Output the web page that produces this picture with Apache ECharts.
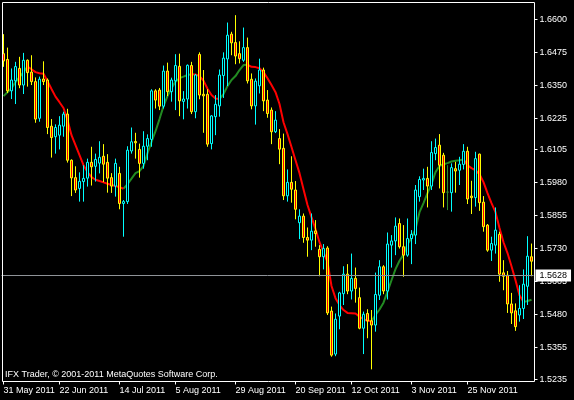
<!DOCTYPE html>
<html><head><meta charset="utf-8">
<script src="https://cdn.jsdelivr.net/npm/echarts@6/dist/echarts.min.js"></script>
<style>html,body{margin:0;padding:0;background:#000;}#c{width:574px;height:400px;}</style>
</head><body><div id="c"></div>
<script>
const open  = [1.6469,1.6447,1.6328,1.6366,1.6413,1.6350,1.6444,1.6399,1.6363,1.6224,1.6373,1.6369,1.6194,1.6154,1.6160,1.6194,1.6240,1.6065,1.5999,1.5958,1.5984,1.5997,1.6057,1.6042,1.6054,1.6080,1.6057,1.5999,1.5967,1.6015,1.5901,1.5908,1.6100,1.6136,1.6106,1.6053,1.6118,1.6144,1.6328,1.6331,1.6270,1.6403,1.6325,1.6366,1.6421,1.6288,1.6297,1.6424,1.6249,1.6466,1.6315,1.6315,1.6128,1.6230,1.6271,1.6386,1.6449,1.6543,1.6511,1.6469,1.6444,1.6492,1.6372,1.6271,1.6347,1.6407,1.6293,1.6255,1.6173,1.6147,1.6110,1.5930,1.5981,1.5952,1.5828,1.5853,1.5772,1.5762,1.5797,1.5727,1.5699,1.5732,1.5493,1.5330,1.5474,1.5559,1.5633,1.5569,1.5617,1.5544,1.5428,1.5484,1.5456,1.5440,1.5553,1.5661,1.5569,1.5743,1.5759,1.5825,1.5737,1.5705,1.5768,1.5781,1.5927,1.5990,1.5996,1.5967,1.6090,1.6122,1.6084,1.5944,1.5942,1.6033,1.6027,1.6049,1.6099,1.5929,1.5923,1.6088,1.5906,1.5819,1.5724,1.5743,1.5784,1.5638,1.5629,1.5520,1.5494,1.5478,1.5503,1.5587,1.5699];
const close = [1.6441,1.6328,1.6369,1.6420,1.6350,1.6444,1.6397,1.6363,1.6221,1.6372,1.6363,1.6189,1.6151,1.6189,1.6198,1.6240,1.6065,1.5998,1.5952,1.5985,1.5996,1.6057,1.6040,1.6068,1.6076,1.6050,1.5997,1.5967,1.6053,1.5901,1.5908,1.6103,1.6135,1.6131,1.6053,1.6118,1.6147,1.6328,1.6293,1.6270,1.6403,1.6325,1.6369,1.6424,1.6290,1.6297,1.6425,1.6249,1.6388,1.6312,1.6309,1.6126,1.6233,1.6277,1.6388,1.6452,1.6539,1.6510,1.6460,1.6450,1.6492,1.6366,1.6271,1.6365,1.6407,1.6290,1.6242,1.6173,1.6217,1.6107,1.5930,1.5981,1.5955,1.5879,1.5853,1.5772,1.5762,1.5796,1.5787,1.5699,1.5730,1.5486,1.5326,1.5462,1.5562,1.5633,1.5569,1.5617,1.5579,1.5428,1.5481,1.5456,1.5440,1.5556,1.5661,1.5569,1.5747,1.5759,1.5815,1.5737,1.5705,1.5768,1.5784,1.5952,1.5992,1.5996,1.5967,1.6094,1.6113,1.6046,1.5942,1.5944,1.6037,1.6024,1.6050,1.6099,1.5918,1.5923,1.6071,1.5904,1.5813,1.5724,1.5749,1.5800,1.5633,1.5625,1.5520,1.5486,1.5434,1.5503,1.5595,1.5701,1.5682];
const low   = [1.6419,1.6320,1.6297,1.6278,1.6338,1.6316,1.6344,1.6350,1.6207,1.6211,1.6350,1.6164,1.6075,1.6090,1.6106,1.6154,1.6056,1.5929,1.5941,1.5908,1.5908,1.5965,1.5969,1.5984,1.6015,1.5982,1.5942,1.5941,1.5927,1.5879,1.5775,1.5899,1.6090,1.6071,1.5999,1.6033,1.6065,1.6116,1.6261,1.6255,1.6261,1.6308,1.6287,1.6255,1.6232,1.6220,1.6261,1.6240,1.6224,1.6296,1.6169,1.6116,1.6106,1.6160,1.6230,1.6301,1.6346,1.6463,1.6429,1.6432,1.6438,1.6356,1.6258,1.6200,1.6318,1.6251,1.6226,1.6126,1.6168,1.6050,1.5914,1.5908,1.5904,1.5841,1.5766,1.5752,1.5699,1.5724,1.5737,1.5625,1.5651,1.5478,1.5320,1.5322,1.5424,1.5516,1.5557,1.5537,1.5525,1.5424,1.5330,1.5390,1.5272,1.5415,1.5535,1.5557,1.5537,1.5658,1.5705,1.5730,1.5623,1.5699,1.5671,1.5747,1.5908,1.5952,1.5886,1.5952,1.6065,1.5958,1.5886,1.5876,1.5870,1.5942,1.5971,1.6030,1.5899,1.5861,1.5889,1.5873,1.5794,1.5718,1.5683,1.5711,1.5604,1.5572,1.5486,1.5444,1.5418,1.5453,1.5463,1.5516,1.5625];
const high  = [1.6543,1.6492,1.6413,1.6438,1.6457,1.6472,1.6447,1.6463,1.6379,1.6382,1.6440,1.6375,1.6221,1.6201,1.6232,1.6249,1.6260,1.6068,1.6042,1.6019,1.6046,1.6071,1.6116,1.6090,1.6137,1.6126,1.6088,1.6016,1.6071,1.6040,1.5914,1.6118,1.6189,1.6169,1.6128,1.6175,1.6163,1.6334,1.6334,1.6339,1.6424,1.6435,1.6378,1.6467,1.6469,1.6327,1.6428,1.6438,1.6392,1.6474,1.6407,1.6334,1.6236,1.6312,1.6409,1.6474,1.6587,1.6552,1.6615,1.6516,1.6568,1.6530,1.6394,1.6375,1.6450,1.6416,1.6331,1.6265,1.6251,1.6183,1.6166,1.6030,1.6080,1.5986,1.5879,1.5863,1.5810,1.5863,1.5838,1.5743,1.5747,1.5739,1.5510,1.5484,1.5566,1.5663,1.5671,1.5711,1.5658,1.5582,1.5491,1.5500,1.5497,1.5639,1.5686,1.5667,1.5791,1.5781,1.5848,1.5844,1.5819,1.5844,1.5800,1.5971,1.6004,1.6033,1.6040,1.6137,1.6147,1.6164,1.6093,1.6046,1.6053,1.6059,1.6078,1.6126,1.6116,1.5987,1.6097,1.6090,1.5929,1.5823,1.5775,1.5886,1.5794,1.5686,1.5645,1.5562,1.5522,1.5591,1.5651,1.5777,1.5749];
const ma    = [1.6308,1.6323,1.6338,1.6361,1.6380,1.6399,1.6420,1.6410,1.6399,1.6395,1.6393,1.6365,1.6335,1.6306,1.6285,1.6263,1.6217,1.6160,1.6122,1.6084,1.6046,1.6020,1.6001,1.5991,1.5986,1.5981,1.5976,1.5971,1.5967,1.5963,1.5957,1.5974,1.5995,1.6016,1.6024,1.6043,1.6092,1.6134,1.6175,1.6221,1.6270,1.6308,1.6338,1.6363,1.6376,1.6382,1.6388,1.6391,1.6390,1.6384,1.6367,1.6336,1.6312,1.6299,1.6297,1.6316,1.6346,1.6369,1.6384,1.6407,1.6426,1.6427,1.6419,1.6418,1.6414,1.6399,1.6376,1.6350,1.6323,1.6278,1.6209,1.6164,1.6115,1.6065,1.6016,1.5955,1.5895,1.5849,1.5804,1.5754,1.5717,1.5679,1.5588,1.5542,1.5516,1.5497,1.5486,1.5485,1.5484,1.5472,1.5462,1.5456,1.5455,1.5478,1.5499,1.5525,1.5567,1.5610,1.5652,1.5684,1.5707,1.5747,1.5770,1.5804,1.5868,1.5902,1.5940,1.5974,1.6020,1.6043,1.6050,1.6054,1.6060,1.6063,1.6065,1.6068,1.6046,1.6035,1.6027,1.6012,1.5982,1.5940,1.5902,1.5868,1.5808,1.5754,1.5713,1.5663,1.5610,1.5553,1.5527,1.5531,1.5536];
const priceTicks = [1.6600,1.6475,1.6350,1.6225,1.6105,1.5980,1.5855,1.5730,1.5605,1.5480,1.5355,1.5235];
const xTickLabels = ['31 May 2011','22 Jun 2011','14 Jul 2011','5 Aug 2011','29 Aug 2011','20 Sep 2011','12 Oct 2011','3 Nov 2011','25 Nov 2011'];
const xTickBars = [0,14,29,43,58,73,87,102,116];
const lastPrice = 1.5628;
const copyright = 'IFX Trader, \u00A9 2001-2011 MetaQuotes Software Corp.';

const n = open.length;
const categories = open.map((_, i) => String(i));
const labelMap = {};
xTickBars.forEach((b, k) => { labelMap[b] = xTickLabels[k]; });

const DOJI = '#2e8b2e';
const candles = open.map((o, i) => {
  const item = { value: [o, close[i], low[i], high[i]] };
  if (o === close[i]) {
    item.itemStyle = { color: DOJI, color0: DOJI, borderColor: DOJI, borderColor0: DOJI };
  }
  return item;
});
const maUp = new Array(n).fill('-');
const maDown = new Array(n).fill('-');
for (let i = 0; i < n - 1; i++) {
  const tgt = ma[i + 1] > ma[i] ? maUp : maDown;
  tgt[i] = ma[i]; tgt[i + 1] = ma[i + 1];
}

const FONT = 'Liberation Sans';
const chart = echarts.init(document.getElementById('c'), null, { renderer: 'canvas' });
chart.setOption({
  backgroundColor: '#000',
  animation: false,
  grid: { left: 1.5, top: 2.5, width: 532, height: 379, show: false },
  xAxis: {
    type: 'category', data: categories, boundaryGap: true,
    axisLine: { show: false },
    axisTick: { show: true, alignWithLabel: true, length: 3, interval: (i) => labelMap[i] !== undefined, lineStyle: { color: '#fff' } },
    axisLabel: { show: true, interval: (i) => labelMap[i] !== undefined, formatter: (v, i) => labelMap[i] || '', align: 'left', color: '#fff', fontFamily: FONT, fontSize: 9, margin: 5 },
    splitLine: { show: false }
  },
  yAxis: {
    type: 'value', position: 'right', offset: 1, min: 1.5226, max: 1.6663, scale: true,
    axisLine: { show: false },
    axisTick: { show: true, length: 3, customValues: priceTicks, lineStyle: { color: '#fff' } },
    axisLabel: { show: true, customValues: priceTicks, formatter: (v) => v.toFixed(4), color: '#fff', fontFamily: FONT, fontSize: 9, margin: 5 },
    splitLine: { show: false }
  },
  graphic: [
    { type: 'rect', z: 100, silent: true, shape: { x: 2.5, y: 2.5, width: 532, height: 379 }, style: { fill: 'none', stroke: '#fff', lineWidth: 1 } },
    { type: 'text', z: 100, silent: true, x: 5, y: 374.5, style: { text: copyright, fill: '#fff', font: '9px "Liberation Sans"', textVerticalAlign: 'middle' } }
  ],
  series: [
    { type: 'line', data: maUp, symbol: 'none', connectNulls: false, z: 1, lineStyle: { color: '#228b22', width: 2 }, silent: true },
    { type: 'line', data: maDown, symbol: 'none', connectNulls: false, z: 1, lineStyle: { color: '#ff0000', width: 2 }, silent: true },
    {
      type: 'candlestick', data: candles, barWidth: 2, z: 2,
      itemStyle: { color: '#000000', color0: '#ff0000', borderColor: '#00ffff', borderColor0: '#ffff00', borderWidth: 1 },
      markLine: {
        silent: true, symbol: ['none', 'none'], animation: false, precision: 4,
        data: [{ yAxis: lastPrice }],
        lineStyle: { color: '#8f9398', width: 1, type: 'solid' },
        label: { show: true, position: 'end', distance: 2, formatter: () => lastPrice.toFixed(4), color: '#000', backgroundColor: '#fff', padding: [2, 4, 1, 4], fontFamily: FONT, fontSize: 9 }
      }
    }
  ]
});
</script></body></html>
